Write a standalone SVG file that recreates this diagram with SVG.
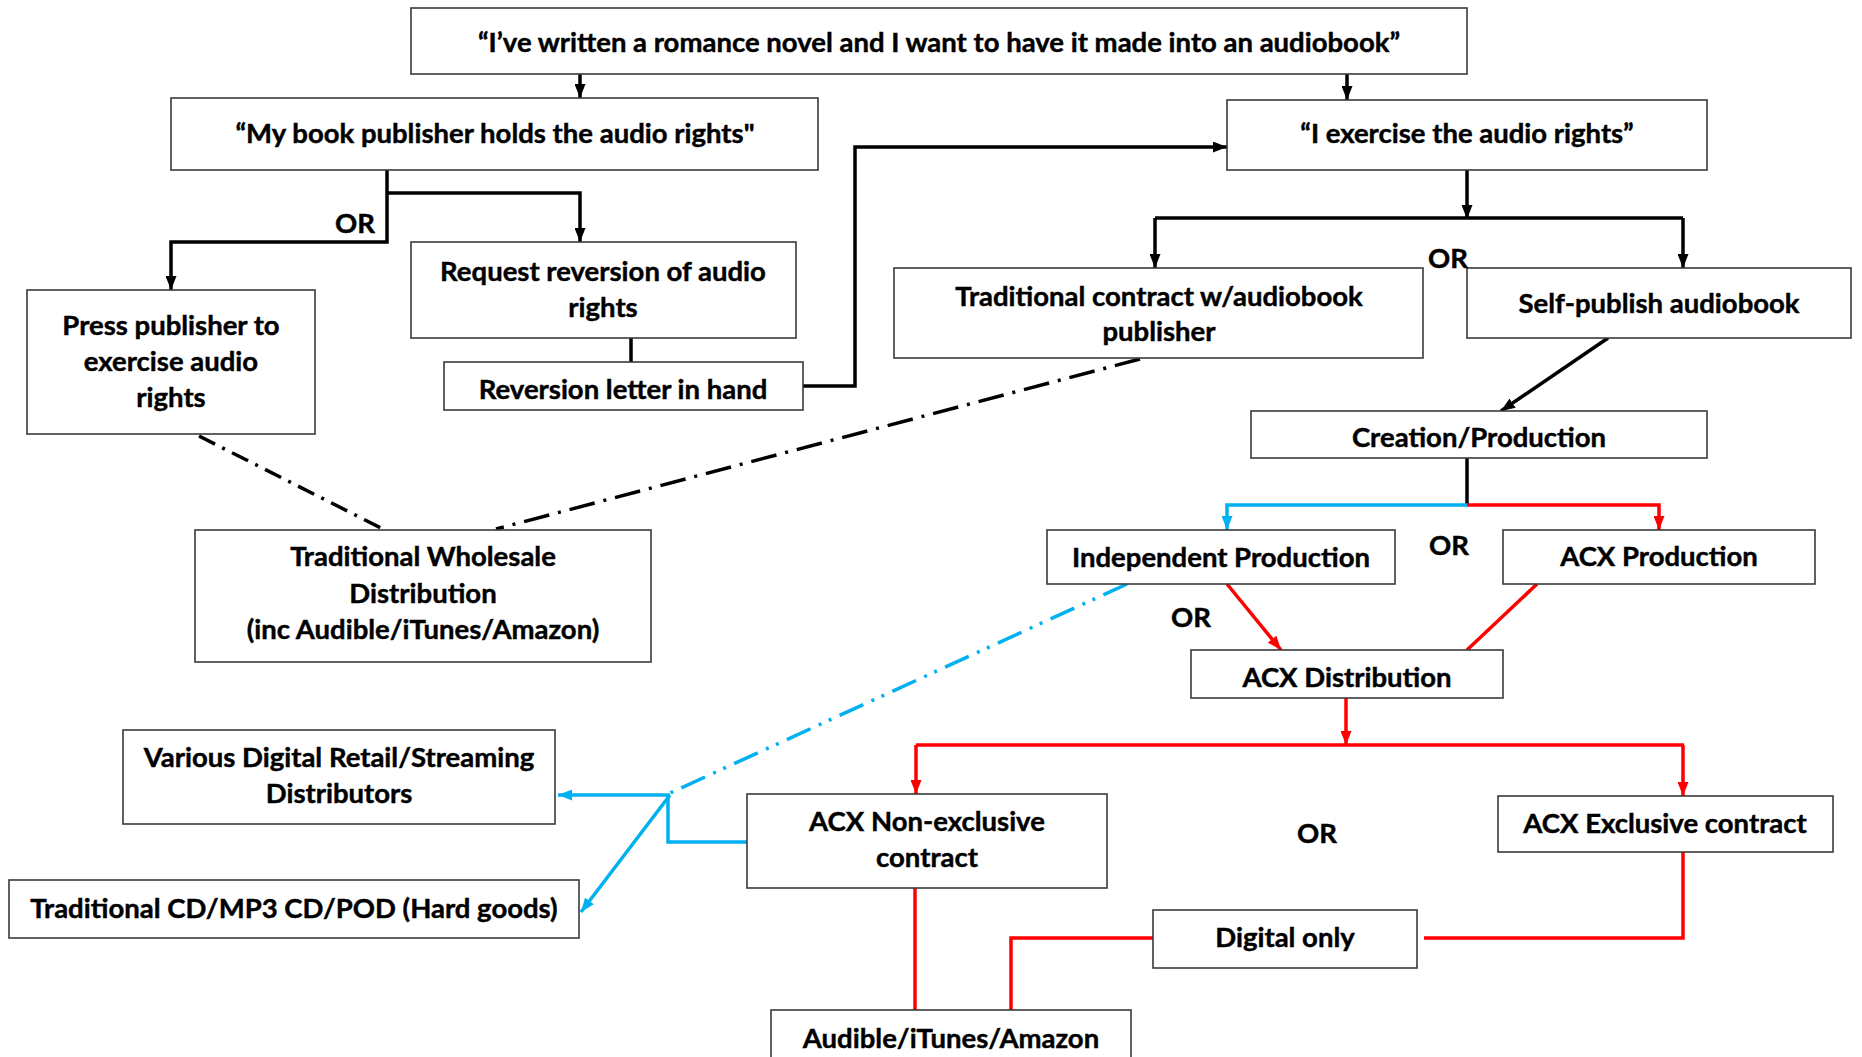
<svg xmlns="http://www.w3.org/2000/svg" width="1862" height="1057" viewBox="0 0 1862 1057">
<defs>
<style>
.box{fill:#fff;stroke:#3a3a3a;stroke-width:1.6}
text{font-family:"Lato","Liberation Sans",sans-serif;font-weight:bold;font-size:27.5px;fill:#000;stroke:#000;stroke-width:0.45;text-anchor:middle}
.k{fill:none;stroke:#000;stroke-width:3.5}
.r{fill:none;stroke:#f00;stroke-width:3.5}
.b{fill:none;stroke:#00b0f0;stroke-width:3.5}
</style>
<marker id="ak" viewBox="0 0 14 11" refX="14" refY="5.5" markerWidth="14" markerHeight="11" markerUnits="userSpaceOnUse" orient="auto"><path d="M0,0L14,5.5L0,11z" fill="#000"/></marker>
<marker id="ar" viewBox="0 0 14 11" refX="14" refY="5.5" markerWidth="14" markerHeight="11" markerUnits="userSpaceOnUse" orient="auto"><path d="M0,0L14,5.5L0,11z" fill="#f00"/></marker>
<marker id="ab" viewBox="0 0 14 11" refX="14" refY="5.5" markerWidth="14" markerHeight="11" markerUnits="userSpaceOnUse" orient="auto"><path d="M0,0L14,5.5L0,11z" fill="#00b0f0"/></marker>
</defs>
<rect width="1862" height="1057" fill="#fff"/>
<g id="connectors">
<path class="k" d="M580,74V98" marker-end="url(#ak)"/>
<path class="k" d="M1347,74V100" marker-end="url(#ak)"/>
<path class="k" d="M387,170V242H171V290" marker-end="url(#ak)"/>
<path class="k" d="M387,193H580V242" marker-end="url(#ak)"/>
<path class="k" d="M631,338V362"/>
<path class="k" d="M803,386H855V147H1227" marker-end="url(#ak)"/>
<path class="k" d="M1467,170V217"/>
<path class="k" d="M1467,217V219" marker-end="url(#ak)"/>
<path class="k" d="M1155,218H1683"/>
<path class="k" d="M1155,218V268" marker-end="url(#ak)"/>
<path class="k" d="M1683,218V268" marker-end="url(#ak)"/>
<path class="k" d="M1608,338L1501,411" marker-end="url(#ak)"/>
<path class="k" d="M1467,458V505"/>
<path class="b" d="M1467,505H1227V530" marker-end="url(#ab)"/>
<path class="r" d="M1467,505H1659V530" marker-end="url(#ar)"/>
<path class="r" d="M1227,584L1281,650" marker-end="url(#ar)"/>
<path class="r" d="M1537,584L1467,650"/>
<path class="r" d="M1346,698V745" marker-end="url(#ar)"/>
<path class="r" d="M916,745H1684"/>
<path class="r" d="M916,745V794" marker-end="url(#ar)"/>
<path class="r" d="M1683,745V796" marker-end="url(#ar)"/>
<path class="r" d="M1683,852V938H1424"/>
<path class="r" d="M1153,938H1011V1010"/>
<path class="r" d="M915,888V1010"/>
<path class="b" d="M747,842H668V795H558" marker-end="url(#ab)"/>
<path class="b" d="M670,795L581,912" marker-end="url(#ab)"/>
<path class="b" d="M1127,584L670,793" stroke-dasharray="26 9 3 8 3 9" stroke-width="3"/>
<path class="k" d="M199,436L381,528" stroke-dasharray="18 8 3 8" stroke-width="3"/>
<path class="k" d="M1140,359L496,529" stroke-dasharray="26 9 3 9" stroke-width="3.5"/>
</g>
<g id="n-top"><rect class="box" x="411" y="8" width="1056" height="66"/><text x="939" y="52">“I’ve written a romance novel and I want to have it made into an audiobook”</text></g>
<g id="n-publisher"><rect class="box" x="171" y="98" width="647" height="72"/><text x="495" y="143">“My book publisher holds the audio rights"</text></g>
<g id="n-exercise"><rect class="box" x="1227" y="100" width="480" height="70"/><text x="1467" y="143">“I exercise the audio rights”</text></g>
<g id="n-request"><rect class="box" x="411" y="242" width="385" height="96"/><text x="603" y="281">Request reversion of audio</text><text x="603" y="317">rights</text></g>
<g id="n-letter"><rect class="box" x="444" y="362" width="359" height="48"/><text x="623" y="399">Reversion letter in hand</text></g>
<g id="n-press"><rect class="box" x="27" y="290" width="288" height="144"/><text x="171" y="335">Press publisher to</text><text x="171" y="371">exercise audio</text><text x="171" y="407">rights</text></g>
<g id="n-tradcontract"><rect class="box" x="894" y="268" width="529" height="90"/><text x="1159" y="306">Traditional contract w/audiobook</text><text x="1159" y="341">publisher</text></g>
<g id="n-self"><rect class="box" x="1467" y="268" width="384" height="70"/><text x="1659" y="313">Self-publish audiobook</text></g>
<g id="n-creation"><rect class="box" x="1251" y="411" width="456" height="47"/><text x="1479" y="447">Creation/Production</text></g>
<g id="n-indep"><rect class="box" x="1047" y="530" width="348" height="54"/><text x="1221" y="567">Independent Production</text></g>
<g id="n-acxprod"><rect class="box" x="1503" y="530" width="312" height="54"/><text x="1659" y="566">ACX Production</text></g>
<g id="n-acxdist"><rect class="box" x="1191" y="650" width="312" height="48"/><text x="1347" y="687">ACX Distribution</text></g>
<g id="n-nonexcl"><rect class="box" x="747" y="794" width="360" height="94"/><text x="927" y="831">ACX Non-exclusive</text><text x="927" y="867">contract</text></g>
<g id="n-excl"><rect class="box" x="1498" y="796" width="335" height="56"/><text x="1665" y="833">ACX Exclusive contract</text></g>
<g id="n-digital"><rect class="box" x="1153" y="910" width="264" height="58"/><text x="1285" y="947">Digital only</text></g>
<g id="n-audible"><rect class="box" x="771" y="1010" width="360" height="60"/><text x="951" y="1048">Audible/iTunes/Amazon</text></g>
<g id="n-wholesale"><rect class="box" x="195" y="530" width="456" height="132"/><text x="423" y="566">Traditional Wholesale</text><text x="423" y="603">Distribution</text><text x="423" y="639">(inc Audible/iTunes/Amazon)</text></g>
<g id="n-various"><rect class="box" x="123" y="730" width="432" height="94"/><text x="339" y="767">Various Digital Retail/Streaming</text><text x="339" y="803">Distributors</text></g>
<g id="n-hardgoods"><rect class="box" x="9" y="880" width="570" height="58"/><text x="294" y="918" font-size="27">Traditional CD/MP3 CD/POD (Hard goods)</text></g>
<g id="labels">
<text x="355" y="233">OR</text>
<text x="1448" y="268">OR</text>
<text x="1449" y="555">OR</text>
<text x="1191" y="627">OR</text>
<text x="1317" y="843">OR</text>
</g>
</svg>
